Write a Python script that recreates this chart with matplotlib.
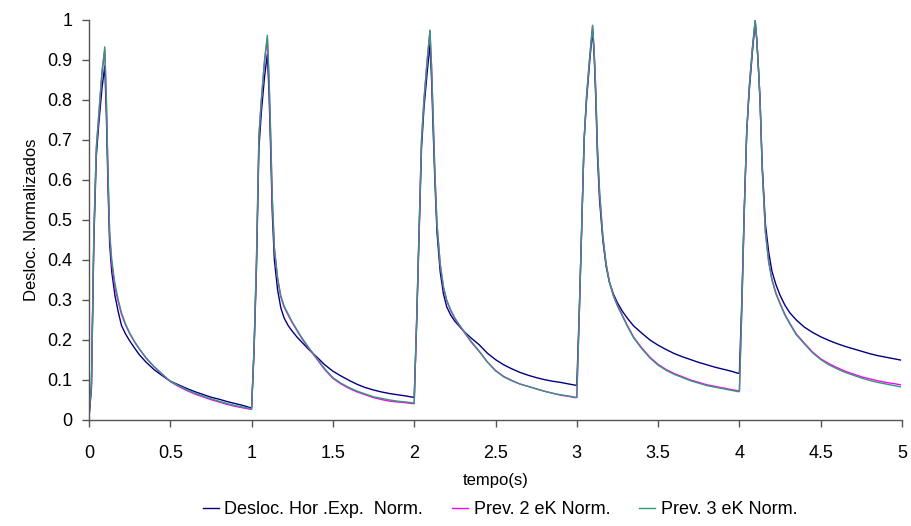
import matplotlib
matplotlib.use("Agg")
import matplotlib.pyplot as plt
import numpy as np

# ---- data ----
cycle_starts = [0.0, 1.0, 2.0, 3.0, 4.0]
cycle_offsets = [0, 0.015, 0.03, 0.045, 0.06, 0.08, 0.097, 0.107, 0.117, 0.127,
                 0.14, 0.16, 0.18, 0.2, 0.225, 0.25, 0.28, 0.31, 0.35, 0.4,
                 0.45, 0.5, 0.55, 0.6, 0.65, 0.7, 0.75, 0.8, 0.85, 0.9, 0.95, 0.99]

desloc_exp = [
    [0.005, 0.08, 0.45, 0.66, 0.74, 0.83, 0.885, 0.76, 0.58, 0.44, 0.37, 0.31, 0.27, 0.236, 0.215, 0.198,
     0.180, 0.163, 0.145, 0.126, 0.111, 0.097, 0.088, 0.079, 0.071, 0.064, 0.057, 0.052, 0.046, 0.041, 0.036, 0.031],
    [0.031, 0.17, 0.38, 0.68, 0.77, 0.86, 0.915, 0.82, 0.68, 0.52, 0.40, 0.325, 0.28, 0.255, 0.236, 0.222,
     0.207, 0.194, 0.177, 0.158, 0.138, 0.122, 0.110, 0.099, 0.089, 0.081, 0.075, 0.070, 0.066, 0.063, 0.060, 0.057],
    [0.057, 0.24, 0.46, 0.68, 0.78, 0.87, 0.940, 0.85, 0.72, 0.60, 0.47, 0.37, 0.315, 0.283, 0.262, 0.247,
     0.233, 0.220, 0.205, 0.188, 0.167, 0.151, 0.138, 0.128, 0.119, 0.112, 0.106, 0.101, 0.097, 0.094, 0.090, 0.087],
    [0.087, 0.27, 0.48, 0.70, 0.80, 0.90, 0.975, 0.91, 0.80, 0.66, 0.55, 0.45, 0.385, 0.345, 0.315, 0.293,
     0.272, 0.255, 0.235, 0.217, 0.200, 0.187, 0.176, 0.166, 0.158, 0.151, 0.144, 0.138, 0.132, 0.127, 0.122, 0.117],
    [0.117, 0.30, 0.53, 0.72, 0.82, 0.92, 0.995, 0.95, 0.88, 0.80, 0.64, 0.49, 0.42, 0.372, 0.338, 0.312,
     0.287, 0.268, 0.250, 0.232, 0.219, 0.208, 0.199, 0.191, 0.184, 0.178, 0.172, 0.166, 0.161, 0.157, 0.153, 0.150],
]
prev_2ek = [
    [0.010, 0.09, 0.47, 0.68, 0.76, 0.87, 0.925, 0.79, 0.61, 0.46, 0.39, 0.33, 0.295, 0.264, 0.237, 0.216,
     0.195, 0.177, 0.155, 0.133, 0.114, 0.096, 0.084, 0.074, 0.065, 0.058, 0.051, 0.045, 0.039, 0.034, 0.030, 0.027],
    [0.027, 0.18, 0.40, 0.71, 0.80, 0.90, 0.955, 0.85, 0.71, 0.55, 0.43, 0.352, 0.307, 0.282, 0.262, 0.243,
     0.223, 0.203, 0.180, 0.153, 0.126, 0.104, 0.090, 0.079, 0.070, 0.063, 0.056, 0.051, 0.047, 0.045, 0.043, 0.041],
    [0.041, 0.25, 0.48, 0.70, 0.80, 0.90, 0.972, 0.88, 0.75, 0.62, 0.49, 0.388, 0.331, 0.298, 0.273, 0.253,
     0.235, 0.218, 0.195, 0.171, 0.145, 0.124, 0.109, 0.099, 0.090, 0.084, 0.078, 0.072, 0.067, 0.062, 0.059, 0.056],
    [0.056, 0.26, 0.48, 0.70, 0.81, 0.91, 0.985, 0.92, 0.82, 0.68, 0.57, 0.46, 0.392, 0.347, 0.312, 0.287,
     0.262, 0.237, 0.207, 0.180, 0.157, 0.139, 0.126, 0.116, 0.108, 0.100, 0.094, 0.088, 0.084, 0.080, 0.076, 0.073],
    [0.073, 0.28, 0.52, 0.72, 0.83, 0.93, 0.998, 0.95, 0.88, 0.80, 0.63, 0.47, 0.397, 0.352, 0.317, 0.292,
     0.264, 0.242, 0.215, 0.192, 0.170, 0.153, 0.141, 0.131, 0.122, 0.115, 0.108, 0.103, 0.098, 0.094, 0.091, 0.088],
]
prev_3ek = [
    [0.010, 0.09, 0.47, 0.68, 0.76, 0.87, 0.933, 0.80, 0.62, 0.47, 0.40, 0.34, 0.300, 0.268, 0.240, 0.218,
     0.196, 0.178, 0.156, 0.134, 0.115, 0.097, 0.086, 0.076, 0.067, 0.060, 0.053, 0.047, 0.041, 0.036, 0.032, 0.029],
    [0.028, 0.18, 0.40, 0.71, 0.80, 0.90, 0.962, 0.86, 0.72, 0.56, 0.43, 0.355, 0.310, 0.285, 0.265, 0.245,
     0.225, 0.205, 0.182, 0.155, 0.128, 0.106, 0.092, 0.081, 0.072, 0.065, 0.058, 0.054, 0.050, 0.047, 0.045, 0.043],
    [0.042, 0.25, 0.48, 0.70, 0.80, 0.90, 0.975, 0.88, 0.75, 0.62, 0.49, 0.39, 0.333, 0.300, 0.275, 0.255,
     0.237, 0.220, 0.197, 0.172, 0.145, 0.123, 0.108, 0.098, 0.090, 0.084, 0.078, 0.072, 0.067, 0.063, 0.060, 0.057],
    [0.057, 0.26, 0.48, 0.70, 0.81, 0.91, 0.987, 0.92, 0.82, 0.68, 0.57, 0.46, 0.390, 0.345, 0.310, 0.285,
     0.260, 0.235, 0.205, 0.178, 0.155, 0.137, 0.124, 0.114, 0.106, 0.098, 0.092, 0.086, 0.082, 0.078, 0.074, 0.071],
    [0.071, 0.28, 0.52, 0.72, 0.83, 0.93, 1.000, 0.95, 0.88, 0.80, 0.63, 0.47, 0.395, 0.350, 0.315, 0.290,
     0.262, 0.240, 0.213, 0.190, 0.168, 0.151, 0.138, 0.128, 0.119, 0.112, 0.105, 0.099, 0.094, 0.090, 0.086, 0.083],
]

series_labels = ["Desloc. Hor .Exp.  Norm.", "Prev. 2 eK Norm.", "Prev. 3 eK Norm."]
series_colors = ["#000080", "#FF00FF", "#339977"]

x_ticks = [0, 0.5, 1, 1.5, 2, 2.5, 3, 3.5, 4, 4.5, 5]
x_ticklabels = ["0", "0.5", "1", "1.5", "2", "2.5", "3", "3.5", "4", "4.5", "5"]
y_ticks = [0, 0.1, 0.2, 0.3, 0.4, 0.5, 0.6, 0.7, 0.8, 0.9, 1]
y_ticklabels = ["0", "0.1", "0.2", "0.3", "0.4", "0.5", "0.6", "0.7", "0.8", "0.9", "1"]

# ---- build ----
t = np.concatenate([np.array(cycle_offsets) + s for s in cycle_starts])

plt.rcParams['font.family'] = ['Liberation Sans', 'DejaVu Sans']
fig = plt.figure(figsize=(9.12, 5.26), dpi=100)
ax = fig.add_axes([89/912, 1 - 420/526, (902-89)/912, (420-20)/526])

for vals, lab, col in zip([desloc_exp, prev_2ek, prev_3ek], series_labels, series_colors):
    ax.plot(t, np.concatenate(vals), color=col, lw=1.0, label=lab)

ax.set_xlim(0, 5)
ax.set_ylim(0, 1)
ax.set_xticks(x_ticks)
ax.set_xticklabels(x_ticklabels)
ax.set_yticks(y_ticks)
ax.set_yticklabels(y_ticklabels)
for side in ["top", "right"]:
    ax.spines[side].set_visible(False)
for side in ["left", "bottom"]:
    ax.spines[side].set_color("#555555")
    ax.spines[side].set_linewidth(1.0)
ax.tick_params(axis="both", direction="out", length=5, width=1, color="#555555",
               labelsize=13)
ax.tick_params(axis="y", pad=7)
ax.tick_params(axis="x", pad=13)
ax.set_xlabel("tempo(s)", fontsize=12, labelpad=8)
ax.set_ylabel("Desloc. Normalizados", fontsize=12, labelpad=6)

fig.legend(loc="center", bbox_to_anchor=(500/912, 1 - 510/526), ncol=3, frameon=False,
           fontsize=13, handlelength=0.9, handletextpad=0.3, columnspacing=1.6)

fig.savefig("out.png", dpi=100)
